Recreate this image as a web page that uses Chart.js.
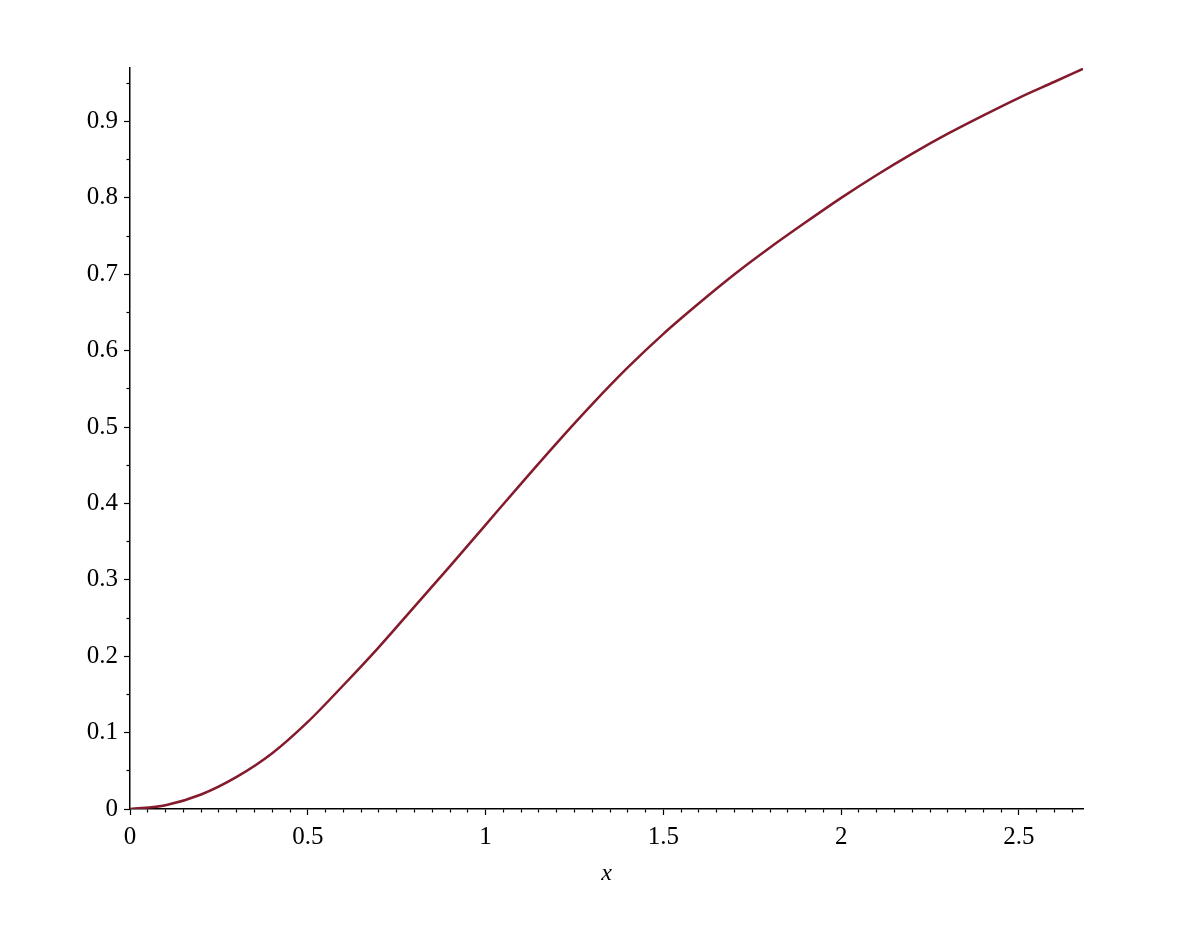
<!DOCTYPE html>
<html>
<head>
<meta charset="utf-8">
<script src="https://cdn.jsdelivr.net/npm/chart.js@4.4.0/dist/chart.umd.min.js"></script>
<style>
    body { margin: 0; background: #ffffff; }
    #graph { display: block; }
</style>
</head>
<body>
<canvas id="graph" width="1181" height="926"></canvas>
<script>
// values
const xValues = [0, 0.1, 0.2, 0.3, 0.4, 0.5, 0.6, 0.7, 0.8, 0.9, 1.0, 1.1, 1.2, 1.3,
    1.4, 1.5, 1.6, 1.7, 1.8, 1.9, 2.0, 2.1, 2.2, 2.3, 2.4, 2.5, 2.6, 2.68];
const yValues = [0, 0.005, 0.019, 0.042, 0.073, 0.114, 0.162, 0.212, 0.265, 0.318, 0.372, 0.426, 0.479, 0.530,
    0.578, 0.622, 0.662, 0.700, 0.735, 0.768, 0.800, 0.830, 0.858, 0.884, 0.908, 0.931, 0.952, 0.969];

const xRange = [0, 2.68];
const yRange = [0, 0.97];
const xLabelStep = 0.5;
const yLabelStep = 0.1;
const minorStep = 0.05;
const axisTitle = 'x';

const canvas = document.getElementById('graph');
const serif = "'Liberation Serif', 'DejaVu Serif', serif";

function isMultiple(value, step) {
    const r = value / step;
    return Math.abs(r - Math.round(r)) < 1e-6;
}

function formatTick(value) {
    return String(Math.round(value * 100) / 100);
}

const points = xValues.map((x, i) => ({ x: x, y: yValues[i] }));

const chart = new Chart(canvas, {
    type: 'line',
    data: {
        datasets: [{
            data: points,
            borderColor: '#841a2c',
            borderWidth: 2.5,
            pointRadius: 0,
            fill: false,
            cubicInterpolationMode: 'monotone'
        }]
    },
    options: {
        responsive: false,
        animation: false,
        layout: {
            padding: { top: 68, right: 98, left: 0, bottom: 0 }
        },
        plugins: {
            legend: { display: false },
            tooltip: { enabled: false }
        },
        scales: {
            x: {
                type: 'linear',
                position: 'bottom',
                min: xRange[0],
                max: xRange[1],
                afterFit: scale => { scale.height = 117; },
                border: { display: true, color: '#000000', width: 1.5 },
                grid: {
                    drawOnChartArea: false,
                    drawTicks: true,
                    tickLength: 6,
                    tickColor: '#000000',
                    tickWidth: 1.2,
                    tickBorderDash: ctx => isMultiple(ctx.tick.value, xLabelStep) ? [] : [3, 30]
                },
                ticks: {
                    stepSize: minorStep,
                    autoSkip: false,
                    maxRotation: 0,
                    includeBounds: false,
                    maxTicksLimit: 200,
                    padding: 7,
                    color: '#000000',
                    font: { family: serif, size: 25 },
                    callback: value => isMultiple(value, xLabelStep) ? formatTick(value) : ''
                },
                title: {
                    display: true,
                    text: axisTitle,
                    color: '#000000',
                    font: { family: serif, size: 24, style: 'italic' },
                    padding: { top: 0, bottom: 38 }
                }
            },
            y: {
                type: 'linear',
                position: 'left',
                min: yRange[0],
                max: yRange[1],
                afterFit: scale => { scale.width = 130; },
                border: { display: true, color: '#000000', width: 1.5 },
                grid: {
                    drawOnChartArea: false,
                    drawTicks: true,
                    tickLength: 6,
                    tickColor: '#000000',
                    tickWidth: 1.2,
                    tickBorderDash: ctx => isMultiple(ctx.tick.value, yLabelStep) ? [] : [3, 30],
                    tickBorderDashOffset: ctx => isMultiple(ctx.tick.value, yLabelStep) ? 0 : 30.5
                },
                ticks: {
                    stepSize: minorStep,
                    autoSkip: false,
                    includeBounds: false,
                    maxTicksLimit: 200,
                    padding: 6,
                    color: '#000000',
                    font: { family: serif, size: 25 },
                    callback: value => isMultiple(value, yLabelStep) ? formatTick(value) : ''
                }
            }
        }
    }
});
</script>
</body>
</html>
